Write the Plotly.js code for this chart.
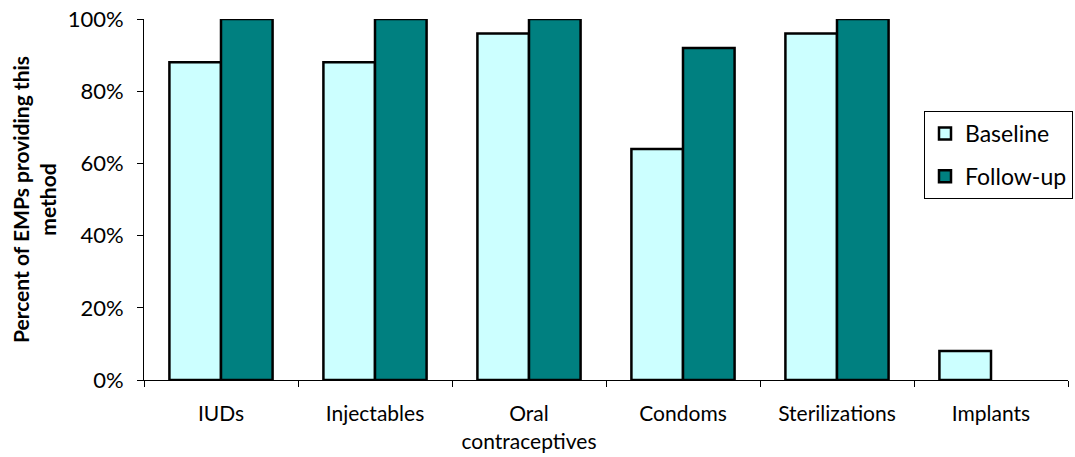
<!DOCTYPE html>
<html><head><meta charset="utf-8">
<script src="https://cdn.plot.ly/plotly-3.0.1.min.js"></script>
<style>html,body{margin:0;padding:0;background:#fff;overflow:hidden}#c{width:1075px;height:457px}</style>
</head><body><div id="c"></div>
<script>
const categories = ["IUDs", "Injectables", "Oral<br>contraceptives", "Condoms", "Sterilizations", "Implants"];
const baseline = [88, 88, 96, 64, 96, 8];
const followUp = [100, 100, 100, 92, 100, 0];
const yTickVals = [0, 20, 40, 60, 80, 100];
const yTickText = ["0%", "20%", "40%", "60%", "80%", "100%"];

const font = "Lato, 'Open Sans', sans-serif";
const outline = v => v.map(d => (d > 0 ? 2.5 : 0));
const traces = [
  {type: "bar", name: "Baseline", x: categories, y: baseline, legendgroup: "a",
   marker: {color: "#CCFFFF", line: {color: "#000", width: outline(baseline)}}},
  {type: "bar", name: "Follow-up", x: categories, y: followUp, legendgroup: "b",
   marker: {color: "#008080", line: {color: "#000", width: outline(followUp)}}}
];
const layout = {
  width: 1075, height: 457,
  margin: {l: 144, r: 7, t: 19, b: 77, autoexpand: false},
  paper_bgcolor: "#fff", plot_bgcolor: "#fff",
  barmode: "group", bargap: 0.33, bargroupgap: 0,
  font: {family: font, size: 18, color: "#000"},
  xaxis: {showline: true, linecolor: "#000", linewidth: 1, ticks: "outside",
          tickson: "boundaries", ticklen: 6, tickcolor: "#000",
          ticklabelstandoff: 15,
          tickfont: {size: 21, family: font}, showgrid: false},
  yaxis: {range: [0, 100], showline: true, linecolor: "#000", linewidth: 1,
          ticks: "outside", ticklen: 6, tickcolor: "#000", showgrid: false,
          tickvals: yTickVals, ticktext: yTickText, zeroline: false,
          ticklabelstandoff: 9,
          tickfont: {size: 22, family: font},
          title: {text: "<b>Percent of EMPs providing this<br>method</b>",
                  font: {size: 21, family: font}, standoff: 5}},
  legend: {xref: "container", yref: "container", x: 924/1075, xanchor: "left",
           y: 1 - 111/457, yanchor: "top",
           bordercolor: "#000", borderwidth: 1, bgcolor: "#fff",
           font: {size: 23, family: font}, traceorder: "grouped",
           itemwidth: 30, tracegroupgap: 10},
  showlegend: true
};
Plotly.newPlot("c", traces, layout, {displayModeBar: false});
</script>
</body></html>
